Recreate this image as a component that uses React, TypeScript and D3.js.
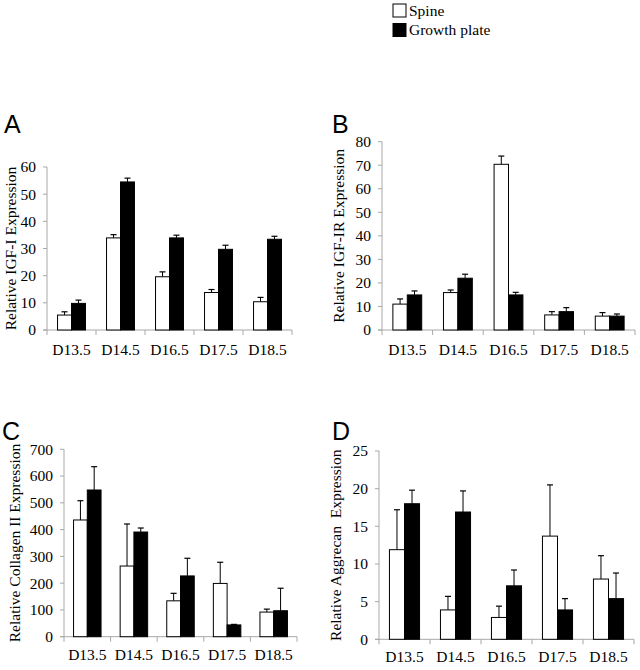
import React from "react";
import * as d3 from "d3";

const categories = ["D13.5", "D14.5", "D16.5", "D17.5", "D18.5"];
const seriesNames = ["Spine", "Growth plate"];

const igf1Spine = [5.5, 33.9, 19.6, 13.8, 10.4];
const igf1SpineErr = [1.2, 1.2, 1.8, 1.1, 1.6];
const igf1Growth = [9.8, 54.5, 33.9, 29.7, 33.4];
const igf1GrowthErr = [1.2, 1.4, 1.0, 1.5, 1.1];

const igf1rSpine = [11.0, 15.9, 70.4, 6.4, 5.9];
const igf1rSpineErr = [2.2, 1.1, 3.5, 1.4, 1.5];
const igf1rGrowth = [14.9, 22.0, 14.9, 7.8, 5.9];
const igf1rGrowthErr = [1.7, 1.7, 1.1, 1.7, 0.9];

const col2Spine = [436, 264, 134, 199, 92];
const col2SpineErr = [72, 157, 28, 79, 11];
const col2Growth = [548, 391, 227, 44, 97];
const col2GrowthErr = [87, 15, 66, 2, 84];

const aggSpine = [11.9, 3.9, 2.9, 13.7, 8.0];
const aggSpineErr = [5.3, 1.8, 1.5, 6.8, 3.1];
const aggGrowth = [18.0, 16.9, 7.1, 3.9, 5.4];
const aggGrowthErr = [1.8, 2.8, 2.1, 1.5, 3.4];

const igf1Ticks = [0, 10, 20, 30, 40, 50, 60];
const igf1rTicks = [0, 10, 20, 30, 40, 50, 60, 70, 80];
const col2Ticks = [0, 100, 200, 300, 400, 500, 600, 700];
const aggTicks = [0, 5, 10, 15, 20, 25];

const SERIF = "'Liberation Serif', 'DejaVu Serif', serif";
const SANS = "'Liberation Sans', Arial, sans-serif";
const AXIS = "#a8a8a8";

type PanelProps = {
  letter: string;
  letterX: number;
  letterY: number;
  title: string;
  titleX: number;
  x0: number;
  x1: number;
  y0: number;
  y1: number;
  ticks: number[];
  spine: number[];
  spineErr: number[];
  growth: number[];
  growthErr: number[];
  labelY: number;
  barFrac: number;
};

function Panel(p: PanelProps) {
  const max = p.ticks[p.ticks.length - 1];
  const y = d3.scaleLinear().domain([0, max]).range([p.y0, p.y1]);
  const x = d3.scaleBand<string>().domain(categories).range([p.x0, p.x1]).padding(0);
  const bw = x.bandwidth();
  const barW = (bw * p.barFrac) / 2;
  const boundaries = d3.range(categories.length + 1).map((i) => p.x0 + i * bw);
  const series = [
    { vals: p.spine, errs: p.spineErr, fill: "#ffffff", off: -barW },
    { vals: p.growth, errs: p.growthErr, fill: "#000000", off: 0 },
  ];
  const titleCy = (p.y0 + p.y1) / 2;
  return (
    <g>
      <text x={p.letterX} y={p.letterY} fontFamily={SANS} fontSize={25} fill="#000">
        {p.letter}
      </text>
      <text
        transform={`translate(${p.titleX},${titleCy}) rotate(-90)`}
        textAnchor="middle"
        fontFamily={SERIF}
        fontSize={15.5}
        fill="#000"
        style={{ whiteSpace: "pre" }}
      >
        {p.title}
      </text>
      {/* y axis */}
      <line x1={p.x0} x2={p.x0} y1={p.y0} y2={p.y1} stroke={AXIS} strokeWidth={1} />
      {p.ticks.map((t) => (
        <g key={t}>
          <line x1={p.x0 - 4} x2={p.x0} y1={y(t)} y2={y(t)} stroke={AXIS} strokeWidth={1} />
          <text
            x={p.x0 - 11}
            y={y(t)}
            dy="0.35em"
            textAnchor="end"
            fontFamily={SERIF}
            fontSize={15.5}
            fill="#000"
          >
            {t}
          </text>
        </g>
      ))}
      {/* x axis */}
      <line x1={p.x0 - 4} x2={p.x1} y1={p.y0} y2={p.y0} stroke={AXIS} strokeWidth={1} />
      {boundaries.map((b, i) => (
        <line key={i} x1={b} x2={b} y1={p.y0} y2={p.y0 + 5} stroke={AXIS} strokeWidth={1} />
      ))}
      {categories.map((c) => (
        <text
          key={c}
          x={(x(c) as number) + bw / 2}
          y={p.labelY}
          textAnchor="middle"
          fontFamily={SERIF}
          fontSize={15.5}
          fill="#000"
        >
          {c}
        </text>
      ))}
      {series.map((s, si) =>
        categories.map((c, i) => {
          const cx = (x(c) as number) + bw / 2 + s.off;
          const top = y(s.vals[i]);
          const errTop = y(s.vals[i] + s.errs[i]);
          const mid = cx + barW / 2;
          return (
            <g key={`${si}-${c}`}>
              <line x1={mid} x2={mid} y1={top} y2={errTop} stroke="#000" strokeWidth={1} />
              <line x1={mid - 3} x2={mid + 3} y1={errTop} y2={errTop} stroke="#000" strokeWidth={1.2} />
              <rect
                x={cx}
                y={top}
                width={barW}
                height={p.y0 - top}
                fill={s.fill}
                stroke="#000"
                strokeWidth={1}
              />
            </g>
          );
        })
      )}
    </g>
  );
}

export default function App() {
  return (
    <svg
      width={640}
      height={670}
      style={{ position: "absolute", left: 0, top: 0, background: "#fff" }}
    >
      <rect width={640} height={670} fill="#fff" />
      {/* legend */}
      <rect x={393} y={4} width={13} height={13} fill="#fff" stroke="#000" strokeWidth={1} />
      <text x={409} y={15.5} fontFamily={SERIF} fontSize={15.5} fill="#000">
        {seriesNames[0]}
      </text>
      <rect x={393} y={23.5} width={13} height={13} fill="#000" stroke="#000" strokeWidth={1} />
      <text x={409} y={35} fontFamily={SERIF} fontSize={15.5} fill="#000">
        {seriesNames[1]}
      </text>

      <Panel
        letter="A"
        letterX={4}
        letterY={133}
        title="Relative IGF-I Expression"
        titleX={16}
        x0={47}
        x1={292}
        y0={330}
        y1={167}
        ticks={igf1Ticks}
        spine={igf1Spine}
        spineErr={igf1SpineErr}
        growth={igf1Growth}
        growthErr={igf1GrowthErr}
        labelY={355}
        barFrac={0.57}
      />
      <Panel
        letter="B"
        letterX={332}
        letterY={133}
        title="Relative IGF-IR Expression"
        titleX={344}
        x0={382}
        x1={635}
        y0={330}
        y1={141.7}
        ticks={igf1rTicks}
        spine={igf1rSpine}
        spineErr={igf1rSpineErr}
        growth={igf1rGrowth}
        growthErr={igf1rGrowthErr}
        labelY={355}
        barFrac={0.57}
      />
      <Panel
        letter="C"
        letterX={2}
        letterY={440}
        title="Relative Collagen II Expression"
        titleX={20}
        x0={64}
        x1={297}
        y0={636.7}
        y1={449.3}
        ticks={col2Ticks}
        spine={col2Spine}
        spineErr={col2SpineErr}
        growth={col2Growth}
        growthErr={col2GrowthErr}
        labelY={660}
        barFrac={0.59}
      />
      <Panel
        letter="D"
        letterX={332}
        letterY={440}
        title="Relative Aggrecan  Expression"
        titleX={341}
        x0={379}
        x1={634}
        y0={639.3}
        y1={451}
        ticks={aggTicks}
        spine={aggSpine}
        spineErr={aggSpineErr}
        growth={aggGrowth}
        growthErr={aggGrowthErr}
        labelY={662}
        barFrac={0.59}
      />
    </svg>
  );
}
